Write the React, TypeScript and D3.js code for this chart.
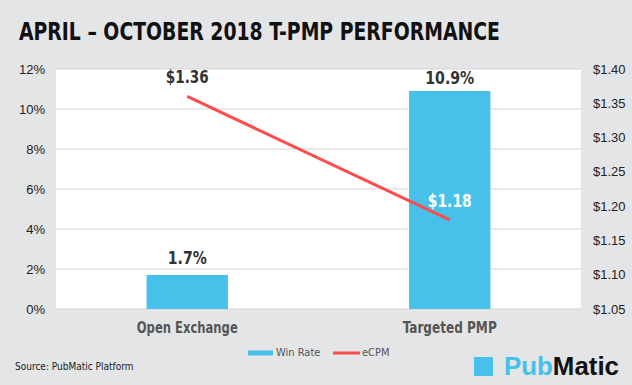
import React from 'react';
import * as d3 from 'd3';

const categories = ['Open Exchange', 'Targeted PMP'];
const winRate = [1.7, 10.9];
const ecpm = [1.36, 1.18];
const winRateLabels = ['1.7%', '10.9%'];
const ecpmLabels = ['$1.36', '$1.18'];
const leftTicks = [0, 2, 4, 6, 8, 10, 12];
const rightTicks = [1.05, 1.1, 1.15, 1.2, 1.25, 1.3, 1.35, 1.4];

const W = 632;
const H = 385;
const margin = { top: 69, right: 51, bottom: 76, left: 56 };
const BLUE = '#47c1ea';
const RED = '#ff4c4c';
const COND = "'Liberation Sans Narrow', 'DejaVu Sans Condensed', Roboto, sans-serif";

// rendered widths of the condensed labels in the original
const textW: Record<string, number> = {
  '1.7%': 39, '10.9%': 49, '$1.36': 43, '$1.18': 44,
  'Open Exchange': 101, 'Targeted PMP': 94,
};

const App = () => {
  const innerW = W - margin.left - margin.right;
  const innerH = H - margin.top - margin.bottom;

  const x = d3.scaleBand().domain(categories).range([0, innerW]).padding(0);
  const yL = d3.scaleLinear().domain([0, 12]).range([innerH, 0]);
  const yR = d3.scaleLinear().domain([1.05, 1.4]).range([innerH, 0]);
  const barW = x.bandwidth() * 0.31;
  const cx = (c: string) => (x(c) as number) + x.bandwidth() / 2;

  const line = d3
    .line<number>()
    .x((_, i) => cx(categories[i]))
    .y(d => yR(d));

  const label = (s: string, px: number, py: number, size: number, fill: string, key?: string) => (
    <text key={key} x={px} y={py} textAnchor="middle" fontFamily={COND} fontWeight="bold" fontSize={size}
      fill={fill} textLength={textW[s]} lengthAdjust="spacingAndGlyphs">{s}</text>
  );

  return (
    <svg width={W} height={H} style={{ position: 'absolute', left: 0, top: 0 }}>
      <rect width={W} height={H} fill="#e4e5e7" />
      <text x={19} y={40} fontFamily={COND} fontWeight="bold" fontSize={25} fill="#111"
        textLength={481} lengthAdjust="spacingAndGlyphs">
        APRIL – OCTOBER 2018 T-PMP PERFORMANCE
      </text>
      <g transform={`translate(${margin.left},${margin.top})`}>
        <rect width={innerW} height={innerH} fill="#fff" />
        {leftTicks.map(t => (
          <line key={t} x1={0} x2={innerW} y1={yL(t)} y2={yL(t)} stroke="#d4d4d4" strokeWidth={1} />
        ))}
        {leftTicks.map(t => (
          <text key={t} x={-11} y={yL(t)} dy="0.35em" textAnchor="end" fontFamily="'Liberation Sans', Arial, sans-serif"
            fontSize={13} fill="#222">{t}%</text>
        ))}
        {rightTicks.map(t => (
          <text key={t} x={innerW + 12} y={yR(t)} dy="0.35em" fontFamily="'Liberation Sans', Arial, sans-serif"
            fontSize={13} fill="#222">${t.toFixed(2)}</text>
        ))}
        {categories.map((c, i) => (
          <rect key={c} x={cx(c) - barW / 2} y={yL(winRate[i])} width={barW}
            height={innerH - yL(winRate[i])} fill={BLUE} />
        ))}
        <path d={line(ecpm) || ''} fill="none" stroke={RED} strokeWidth={3} />
        {categories.map((c, i) =>
          label(winRateLabels[i], cx(c), Math.max(yL(winRate[i]) - 11, 15), 17, '#333', c))}
        {label(ecpmLabels[0], cx(categories[0]), yR(ecpm[0]) - 13, 17, '#333')}
        {label(ecpmLabels[1], cx(categories[1]), yR(ecpm[1]) - 13, 17, '#fff')}
        {categories.map(c => label(c, cx(c), innerH + 24, 15, '#555', 'cat' + c))}
      </g>
      <rect x={248} y={350.5} width={25} height={5} fill={BLUE} />
      <text x={276} y={356} fontFamily={COND} fontSize={11} fill="#555">Win Rate</text>
      <line x1={333} x2={360} y1={353} y2={353} stroke={RED} strokeWidth={3} />
      <text x={362} y={356} fontFamily={COND} fontSize={11} fill="#555">eCPM</text>
      <text x={15} y={370} fontFamily={COND} fontSize={10} fill="#222">Source: PubMatic Platform</text>
      <rect x={474} y={357} width={19} height={19} fill={BLUE} />
      <text x={504} y={375} fontFamily="'Liberation Sans', Arial, sans-serif" fontSize={25} fontWeight="bold"
        textLength={115} lengthAdjust="spacingAndGlyphs">
        <tspan fill={BLUE}>Pub</tspan><tspan fill="#111">Matic</tspan>
      </text>
    </svg>
  );
};

export default App;
